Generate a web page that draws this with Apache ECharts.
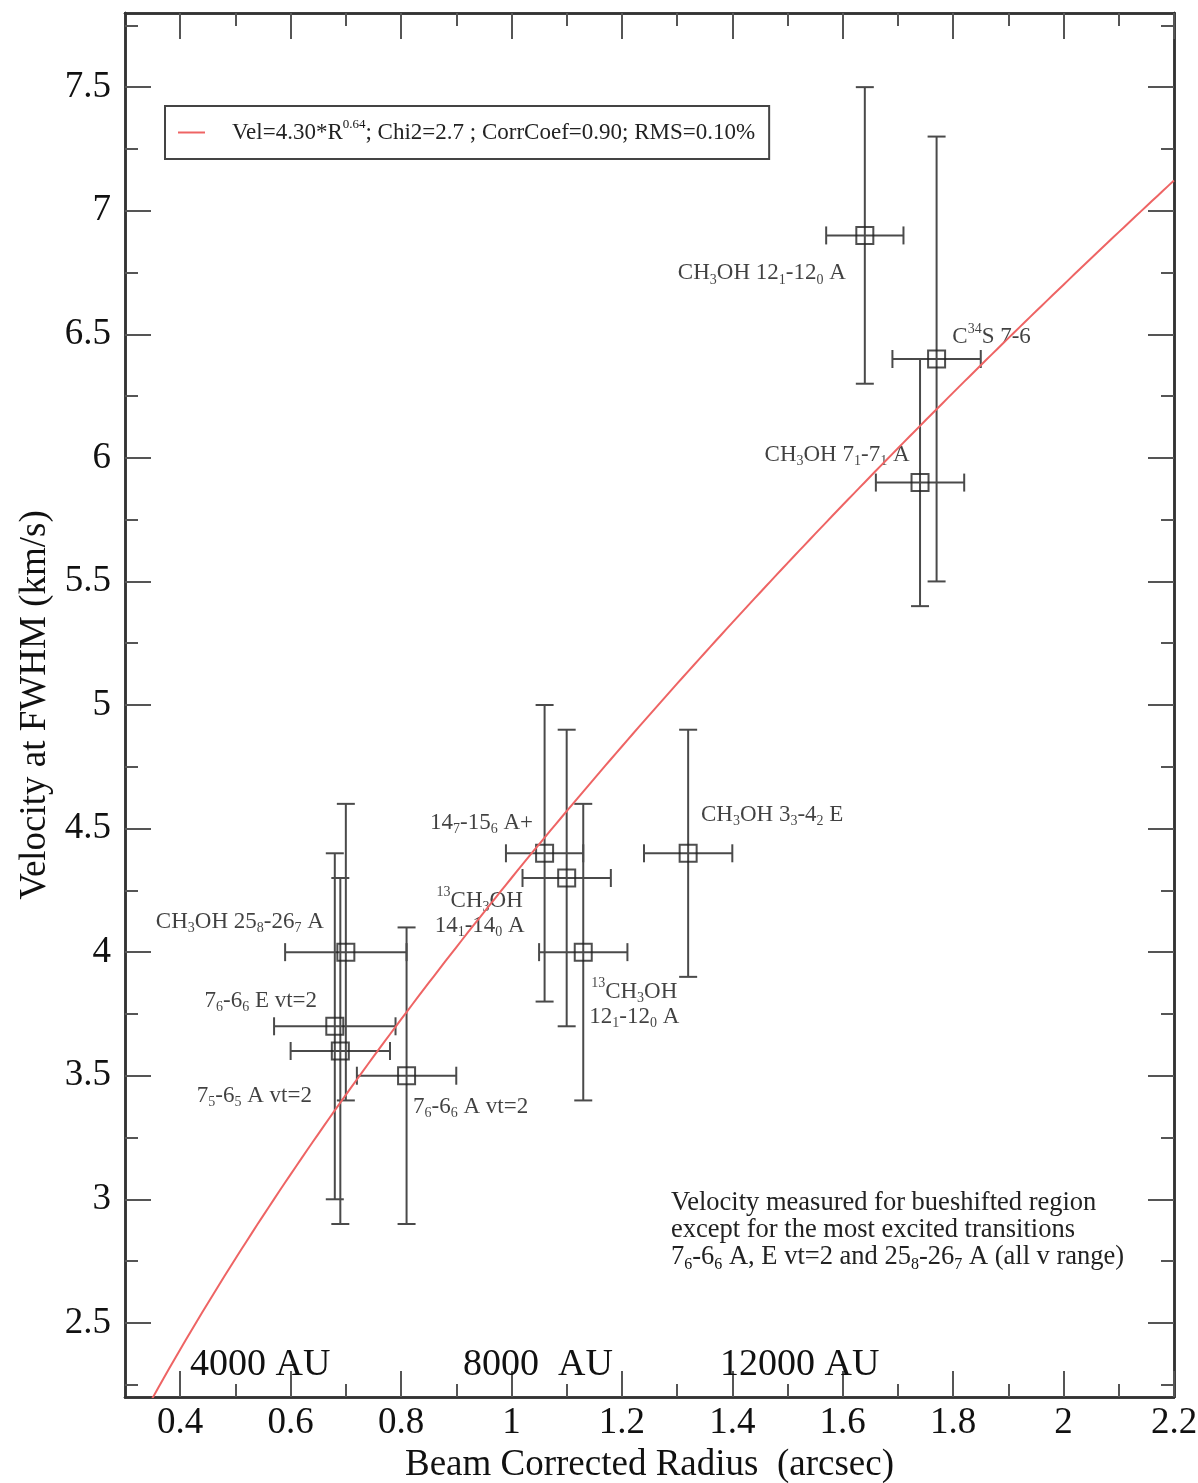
<!DOCTYPE html>
<html>
<head>
<meta charset="utf-8">
<script src="https://cdn.jsdelivr.net/npm/echarts@6/dist/echarts.min.js"></script>
<style>
html, body { margin: 0; padding: 0; background: #fff; }
#chart { width: 1198px; height: 1483px; }
</style>
</head>
<body>
<div id="chart"></div>
<script>
// Beam-corrected radius (arcsec) and FWHM velocity (km/s) of each transition
const radius      = [1.64, 1.77, 1.74, 1.06, 1.10, 1.13, 1.32, 0.70, 0.68, 0.69, 0.81];
const radiusErr   = [0.07, 0.08, 0.08, 0.07, 0.08, 0.08, 0.08, 0.11, 0.11, 0.09, 0.09];
const velocity    = [6.9, 6.4, 5.9, 4.4, 4.3, 4.0, 4.4, 4.0, 3.7, 3.6, 3.5];
const velocityErr = [0.6, 0.9, 0.5, 0.6, 0.6, 0.6, 0.5, 0.6, 0.7, 0.7, 0.6];

// Transition names (rich-text markup: sb = subscript, sp = superscript)
const transitions = [
  'CH{sb|3}OH 12{sb|1}-12{sb|0} A',
  'C{sp|34}S 7-6',
  'CH{sb|3}OH 7{sb|1}-7{sb|1} A',
  '14{sb|7}-15{sb|6} A+',
  '{sp|13}CH{sb|3}OH\n14{sb|1}-14{sb|0} A',
  '{sp|13}CH{sb|3}OH\n12{sb|1}-12{sb|0} A',
  'CH{sb|3}OH 3{sb|3}-4{sb|2} E',
  'CH{sb|3}OH 25{sb|8}-26{sb|7} A',
  '7{sb|6}-6{sb|6} E vt=2',
  '7{sb|5}-6{sb|5} A vt=2',
  '7{sb|6}-6{sb|6} A vt=2'
];

// Power-law fit  Vel = A * R^P  and its statistics
const FIT_A = 4.30;
const FIT_P = 0.64;
const FIT_CHI2 = 2.7;
const FIT_CORR = 0.90;
const FIT_RMS = 0.10;

// Axis ticks
const xMajorTicks = [0.4, 0.6, 0.8, 1, 1.2, 1.4, 1.6, 1.8, 2, 2.2];
const xMinorTicks = [0.5, 0.7, 0.9, 1.1, 1.3, 1.5, 1.7, 1.9, 2.1];
const yMajorTicks = [2.5, 3, 3.5, 4, 4.5, 5, 5.5, 6, 6.5, 7, 7.5];
const yMinorTicks = [2.25, 2.75, 3.25, 3.75, 4.25, 4.75, 5.25, 5.75, 6.25, 6.75, 7.25, 7.75];

// Physical-scale markers along the bottom
const scaleMarks = ['4000 AU', '8000  AU', '12000 AU'];
const noteLines = [
  'Velocity measured for bueshifted region',
  'except for the most excited transitions',
  '7{sb|6}-6{sb|6} A, E vt=2 and 25{sb|8}-26{sb|7} A (all v range)'
];

// ---- layout / styling ----
const X_MIN = 0.3, X_MAX = 2.2, Y_MIN = 2.2, Y_MAX = 7.8;
const FONT = '"Liberation Serif", "DejaVu Serif", serif';
const INK = '#111111';
const FIT_COLOR = '#ee6464';
// label centre offsets (px) from each box
const labelOffsets = [[-103, 38], [55, -22], [-83, -28], [-63, -30], [-87, 35], [51, 52],
                      [84, -38], [-106, -30], [-74, -25], [-86, 45], [64, 31]];
const scaleMarkPos = [[190, 1365], [463, 1365], [720, 1365]];

function richScripts(size) {
  const small = Math.round(size * 0.62);
  const base = { fontFamily: FONT, color: INK, fill: INK };
  return {
    sb: Object.assign({ fontSize: small, lineHeight: small, padding: [Math.round(size * 0.55), 0, 0, 0] }, base),
    sp: Object.assign({ fontSize: small, lineHeight: small, padding: [0, 0, Math.round(size * 0.7), 0] }, base)
  };
}

const fitName = 'Vel=' + FIT_A.toFixed(2) + '*R^' + FIT_P.toFixed(2) + '; Chi2=' + FIT_CHI2 +
  ' ; CorrCoef=' + FIT_CORR.toFixed(2) + '; RMS=' + FIT_RMS.toFixed(2) + '%';

// fit curve sampled across the radius axis
const fitCurve = [];
for (let i = 0; i <= 190; i++) {
  const r = X_MIN + i * 0.01;
  fitCurve.push([r, FIT_A * Math.pow(r, FIT_P)]);
}

const points = radius.map((r, i) => [r, velocity[i], radiusErr[i], velocityErr[i]]);

function axis(kind, position, ticks, len, labels) {
  const isX = kind === 'x';
  const a = {
    type: 'value',
    position: position,
    min: isX ? X_MIN : Y_MIN,
    max: isX ? X_MAX : Y_MAX,
    axisLine: { show: true, onZero: false, lineStyle: { color: '#333', width: 2.5 } },
    axisTick: { show: true, inside: true, length: len, customValues: ticks,
                lineStyle: { color: '#555', width: 2 } },
    axisLabel: { show: false },
    splitLine: { show: false },
    minorTick: { show: false }
  };
  if (labels) {
    a.axisLabel = {
      show: true, customValues: ticks, fontFamily: FONT, fontSize: 37, color: INK,
      margin: isX ? 8 : 14
    };
  }
  return a;
}

const xAxes = [
  axis('x', 'bottom', xMajorTicks, 26, true),
  axis('x', 'bottom', xMinorTicks, 13, false),
  axis('x', 'top', xMajorTicks, 26, false),
  axis('x', 'top', xMinorTicks, 13, false)
];
Object.assign(xAxes[0], {
  name: 'Beam Corrected Radius  (arcsec)', nameLocation: 'middle', nameGap: 48,
  nameTextStyle: { fontFamily: FONT, fontSize: 37, color: INK }
});
const yAxes = [
  axis('y', 'left', yMajorTicks, 26, true),
  axis('y', 'left', yMinorTicks, 13, false),
  axis('y', 'right', yMajorTicks, 26, false),
  axis('y', 'right', yMinorTicks, 13, false)
];
Object.assign(yAxes[0], {
  name: 'Velocity at FWHM (km/s)', nameLocation: 'middle', nameGap: 71,
  nameTextStyle: { fontFamily: FONT, fontSize: 37, color: INK }
});

function errorBars(params, api) {
  const x = api.value(0), y = api.value(1), xe = api.value(2), ye = api.value(3);
  const c = api.coord([x, y]);
  const l = api.coord([x - xe, y]), r = api.coord([x + xe, y]);
  const t = api.coord([x, y + ye]), b = api.coord([x, y - ye]);
  const cap = 9;
  const seg = (x1, y1, x2, y2) => ({
    type: 'line', shape: { x1, y1, x2, y2 },
    style: { stroke: '#4a4a4a', lineWidth: 2 }
  });
  return {
    type: 'group',
    children: [
      seg(l[0], c[1], r[0], c[1]),
      seg(l[0], c[1] - cap, l[0], c[1] + cap),
      seg(r[0], c[1] - cap, r[0], c[1] + cap),
      seg(c[0], t[1], c[0], b[1]),
      seg(c[0] - cap, t[1], c[0] + cap, t[1]),
      seg(c[0] - cap, b[1], c[0] + cap, b[1])
    ]
  };
}

const legendRich = Object.assign({
  lead: { fontFamily: FONT, fontSize: 23, color: '#222', lineHeight: 26, padding: [0, 0, 0, 22] },
  t: { fontFamily: FONT, fontSize: 23, color: '#222', lineHeight: 26 }
}, richScripts(20));
legendRich.sp.fontSize = 13; legendRich.sp.lineHeight = 13; legendRich.sp.padding = [0, 0, 16, 0];

const chart = echarts.init(document.getElementById('chart'), null, { renderer: 'canvas' });
chart.setOption({
  animation: false,
  backgroundColor: '#fff',
  grid: { left: 125, right: 24, top: 13, bottom: 86, containLabel: false, outerBoundsMode: 'none' },
  xAxis: xAxes,
  yAxis: yAxes,
  legend: {
    left: 165, top: 106,
    padding: [12, 14, 12, 13],
    borderColor: '#444', borderWidth: 2,
    itemWidth: 27, itemHeight: 2,
    data: [{ name: fitName, icon: 'rect' }],
    formatter: function () {
      return '{lead|Vel=' + FIT_A.toFixed(2) + '*R}{sp|' + FIT_P.toFixed(2) + '}{t|; Chi2=' + FIT_CHI2 +
        ' ; CorrCoef=' + FIT_CORR.toFixed(2) + '; RMS=' + FIT_RMS.toFixed(2) + '%}';
    },
    textStyle: { fontFamily: FONT, fontSize: 23, color: '#222', rich: legendRich }
  },
  series: [
    {
      type: 'custom',
      name: 'errors',
      renderItem: errorBars,
      encode: { x: 0, y: 1 },
      data: points,
      clip: true,
      z: 2
    },
    {
      type: 'scatter',
      name: 'lines',
      symbol: 'rect',
      symbolSize: 17,
      itemStyle: { color: 'rgba(0,0,0,0)', borderColor: '#222', borderWidth: 2 },
      label: {
        show: true, position: 'inside', align: 'center', verticalAlign: 'middle',
        fontFamily: FONT, fontSize: 23, lineHeight: 25, color: INK,
        rich: richScripts(23)
      },
      data: points.map((p, i) => ({
        value: [p[0], p[1]],
        label: { offset: labelOffsets[i], formatter: transitions[i] }
      })),
      z: 3
    },
    {
      type: 'line',
      name: fitName,
      data: fitCurve,
      showSymbol: false,
      symbol: 'none',
      smooth: false,
      clip: true,
      color: FIT_COLOR,
      lineStyle: { color: FIT_COLOR, width: 2 },
      z: 4
    }
  ],
  graphic: scaleMarks.map((t, i) => ({
    type: 'text', x: scaleMarkPos[i][0], y: scaleMarkPos[i][1], z: 10,
    style: { text: t, fontFamily: FONT, fontSize: 38, fill: INK, align: 'left', verticalAlign: 'middle' }
  })).concat([{
    type: 'text', x: 671, y: 1190, z: 10,
    style: {
      text: noteLines.join('\n'), fontFamily: FONT, fontSize: 26.5, lineHeight: 27,
      fill: '#222', align: 'left', verticalAlign: 'top',
      rich: richScripts(26.5)
    }
  }])
});
</script>
</body>
</html>
